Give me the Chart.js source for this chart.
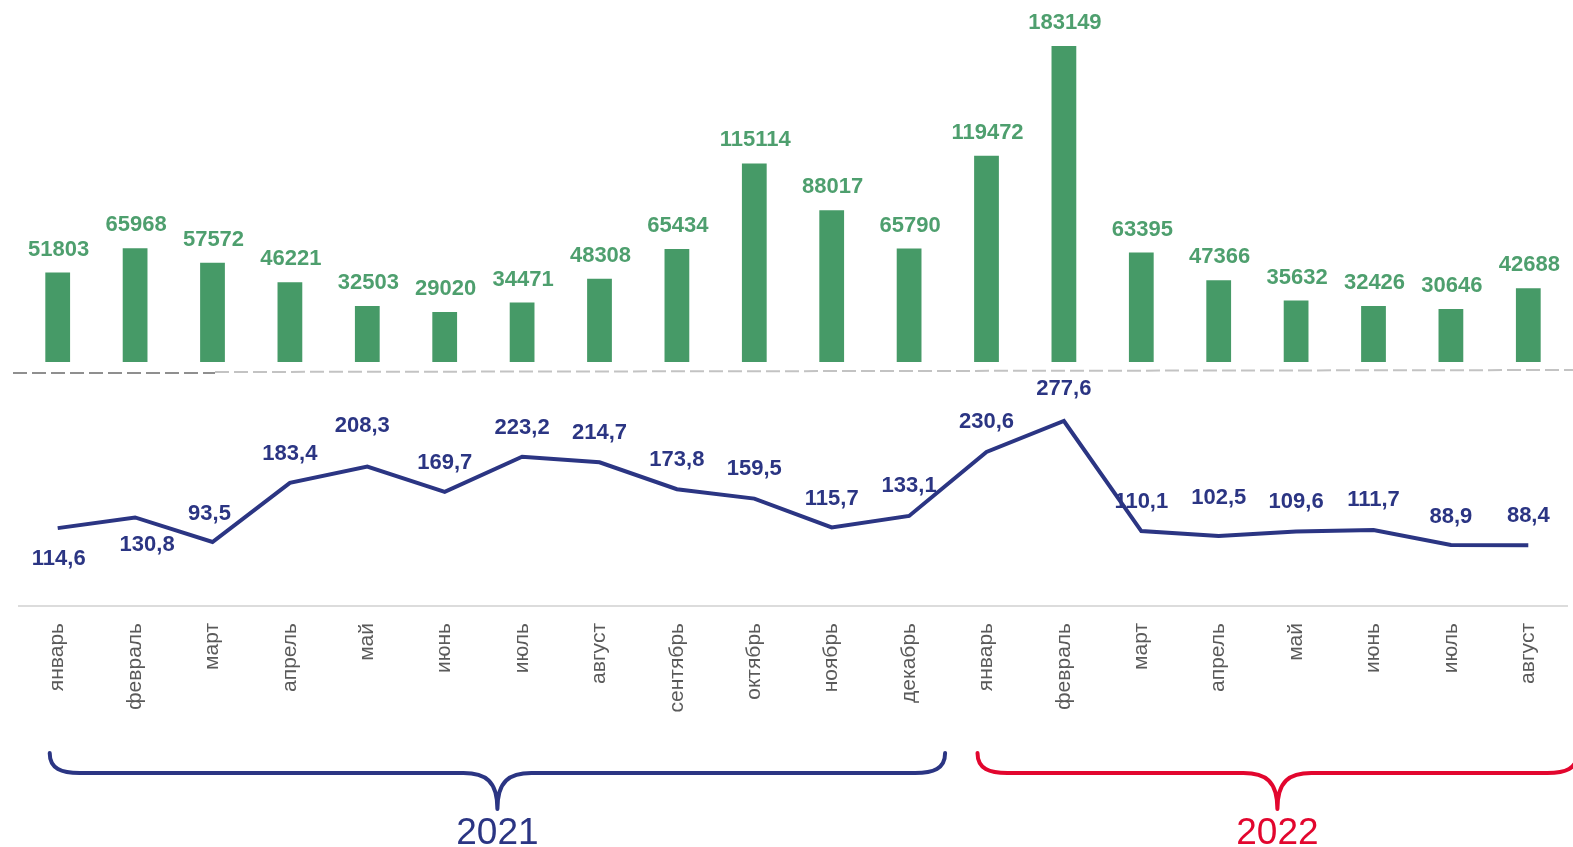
<!DOCTYPE html>
<html>
<head>
<meta charset="utf-8">
<script src="https://cdn.jsdelivr.net/npm/chart.js@4/dist/chart.umd.min.js"></script>
<style>
  html, body { margin: 0; padding: 0; background: #ffffff; }
  #wrap { width: 1573px; height: 847px; position: relative; }
</style>
</head>
<body>
<div id="wrap"><canvas id="c" width="1573" height="847"></canvas></div>
<script>
// ---- data ----
const months = ["январь","февраль","март","апрель","май","июнь","июль","август","сентябрь","октябрь","ноябрь","декабрь",
                "январь","февраль","март","апрель","май","июнь","июль","август"];
const barValues = [51803, 65968, 57572, 46221, 32503, 29020, 34471, 48308, 65434, 115114, 88017, 65790,
                   119472, 183149, 63395, 47366, 35632, 32426, 30646, 42688];
const lineValues = [114.6, 130.8, 93.5, 183.4, 208.3, 169.7, 223.2, 214.7, 173.8, 159.5, 115.7, 133.1,
                    230.6, 277.6, 110.1, 102.5, 109.6, 111.7, 88.9, 88.4];
const years = ["2021", "2022"];
const yearRanges = [[0, 11], [12, 19]];

// ---- label placement (style) ----
const lineLabelDy = [31, 27, -28, -29, -41, -29, -29, -29, -29, -30, -28, -30, -30, -32, -29, -38, -29, -30, -28, -29];
const lineLabelDx = [1, 12, -3, 0, -5, 0, 0, 0, 0, 0, 0, 0, 0, 0, 0, 0, 0, 0, 0, 0];

const GREEN = '#469a67';
const GREEN_TXT = '#4e9f6e';
const NAVY = '#2b3583';
const RED = '#e2062e';
const fmt = v => String(v).replace('.', ',');

const overlay = {
  id: 'overlay',
  beforeDatasetsDraw(chart) {
    const ctx = chart.ctx;
    ctx.save();
    ctx.lineWidth = 2;
    ctx.setLineDash([14, 5]);
    ctx.strokeStyle = '#8f8f8f';
    ctx.beginPath(); ctx.moveTo(13, 373); ctx.lineTo(215, 373); ctx.stroke();
    ctx.strokeStyle = '#c3c3c3';
    ctx.beginPath(); ctx.moveTo(215, 372); ctx.lineTo(1573, 370); ctx.stroke();
    ctx.restore();
  },
  afterDatasetsDraw(chart) {
    const ctx = chart.ctx;
    const x = chart.scales.x;
    ctx.save();
    // bar labels
    const barMeta = chart.getDatasetMeta(0);
    ctx.font = 'bold 22px "Liberation Sans", Arial, sans-serif';
    ctx.textAlign = 'center';
    ctx.textBaseline = 'middle';
    ctx.fillStyle = GREEN_TXT;
    barMeta.data.forEach((el, i) => {
      ctx.fillText(String(barValues[i]), el.x + 1, el.y - 23);
    });
    // line labels
    const lineMeta = chart.getDatasetMeta(1);
    ctx.fillStyle = NAVY;
    lineMeta.data.forEach((el, i) => {
      ctx.fillText(fmt(lineValues[i]), el.x + lineLabelDx[i], el.y + lineLabelDy[i]);
    });
    // braces
    const colors = [NAVY, RED];
    const extents = [[-8, 36], [-9, 49]];
    yearRanges.forEach((r, k) => {
      const L = x.getPixelForValue(r[0]) + extents[k][0];
      const R = x.getPixelForValue(r[1]) + extents[k][1];
      const C = (L + R) / 2;
      const top = 753, base = 773, tip = 809;
      ctx.strokeStyle = colors[k];
      ctx.lineWidth = 4;
      ctx.lineCap = 'round';
      ctx.beginPath();
      ctx.moveTo(L, top);
      ctx.bezierCurveTo(L, base - 4, L + 12, base, L + 30, base);
      ctx.lineTo(C - 34, base);
      ctx.bezierCurveTo(C - 12, base, C, base + 8, C, tip);
      ctx.moveTo(C, tip);
      ctx.bezierCurveTo(C, base + 8, C + 12, base, C + 34, base);
      ctx.lineTo(R - 30, base);
      ctx.bezierCurveTo(R - 12, base, R, base - 4, R, top);
      ctx.stroke();
      ctx.fillStyle = colors[k];
      ctx.font = '37px "Liberation Sans", Arial, sans-serif';
      ctx.textAlign = 'center';
      ctx.textBaseline = 'alphabetic';
      ctx.fillText(years[k], C, 844);
    });
    ctx.restore();
  }
};

new Chart(document.getElementById('c'), {
  type: 'bar',
  data: {
    labels: months,
    datasets: [
      {
        type: 'bar',
        data: barValues,
        backgroundColor: GREEN,
        borderWidth: 0,
        yAxisID: 'y',
        barPercentage: 0.64,
        categoryPercentage: 0.5,
        order: 2
      },
      {
        type: 'line',
        data: lineValues,
        borderColor: NAVY,
        borderWidth: 4,
        pointRadius: 0,
        tension: 0,
        fill: false,
        yAxisID: 'y2',
        order: 1
      }
    ]
  },
  options: {
    responsive: false,
    devicePixelRatio: 1,
    animation: false,
    layout: { padding: { left: 19, right: 6, top: 0, bottom: 0 } },
    plugins: { legend: { display: false }, tooltip: { enabled: false } },
    scales: {
      x: {
        offset: true,
        grid: { display: false, drawTicks: false },
        border: { display: true, color: '#dcdcdc', width: 2 },
        ticks: {
          minRotation: 90, maxRotation: 90, padding: 17,
          color: '#5a5a5a',
          font: { family: '"Liberation Sans", Arial, sans-serif', size: 21 }
        },
        afterFit(scale) { scale.height = 241; }
      },
      y: {
        display: false,
        min: -141417, max: 209806
      },
      y2: {
        display: false,
        min: -3.9, max: 918.1
      }
    }
  },
  plugins: [overlay]
});
</script>
</body>
</html>
